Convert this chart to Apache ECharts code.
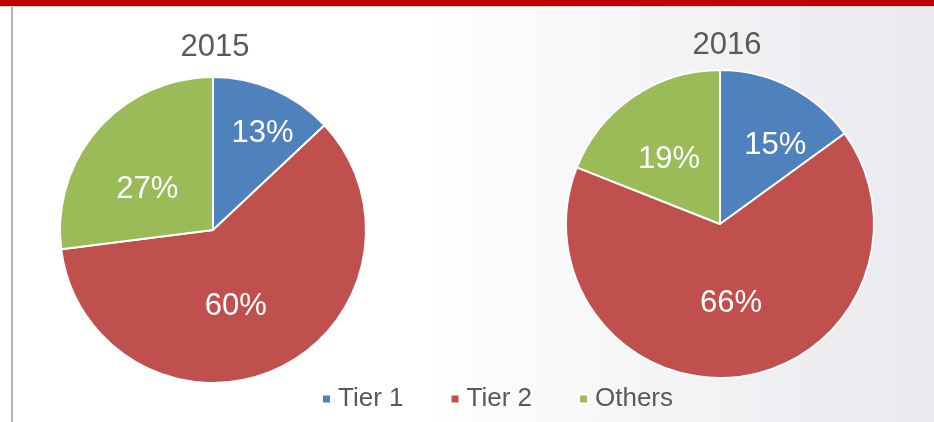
<!DOCTYPE html>
<html>
<head>
<meta charset="utf-8">
<script src="https://cdn.jsdelivr.net/npm/echarts@6/dist/echarts.min.js"></script>
<style>
    html, body {
        margin: 0;
        padding: 0;
    }
    body {
        width: 934px;
        height: 422px;
        overflow: hidden;
        position: relative;
        background: linear-gradient(90deg, #ffffff 0%, #ffffff 45%, #e9e9ee 100%);
    }
    .topbar {
        position: absolute;
        left: 0;
        top: 0;
        width: 934px;
        height: 6px;
        background: #c00000;
        border-bottom: 1px solid #d8d8d8;
    }
    .leftline {
        position: absolute;
        left: 11px;
        top: 7px;
        width: 2px;
        height: 415px;
        background: #b3b3b3;
    }
    #chart {
        position: absolute;
        left: 0;
        top: 0;
        width: 934px;
        height: 422px;
    }
</style>
</head>
<body>
<div class="topbar"></div>
<div class="leftline"></div>
<div id="chart"></div>
<script>
var categories = ['Tier 1', 'Tier 2', 'Others'];
var years = ['2015', '2016'];
var values2015 = [13, 60, 27];
var values2016 = [15, 66, 19];

var colors = ['#4f81bd', '#c0504d', '#9bbb59'];
var fontName = '"Liberation Sans", Arial, sans-serif';

// small nudges so the labels sit where excel put them
var labelShift = [
    [[18, -24], [-11, 5], [-6, 12]],
    [[19, -7], [1, 0], [-6, 2]]
];

function toData(vals) {
    return vals.map(function (v, i) {
        return { name: categories[i], value: v };
    });
}

function pieSeries(idx, vals, center, radius) {
    return {
        name: years[idx],
        type: 'pie',
        center: center,
        radius: radius,
        startAngle: 90,
        clockwise: true,
        animation: false,
        itemStyle: {
            borderColor: '#ffffff',
            borderWidth: 2
        },
        label: {
            show: true,
            position: 'inside',
            formatter: '{c}%',
            color: '#ffffff',
            fontFamily: fontName,
            fontSize: 31
        },
        labelLine: { show: false },
        emphasis: { disabled: true },
        labelLayout: function (p) {
            var s = labelShift[idx][p.dataIndex];
            return { dx: s[0], dy: s[1] };
        },
        data: toData(vals)
    };
}

var chart = echarts.init(document.getElementById('chart'), null, { renderer: 'canvas' });

chart.setOption({
    color: colors,
    backgroundColor: 'transparent',
    title: [{
        text: years[0],
        left: 215,
        top: 32,
        textAlign: 'center',
        padding: 0,
        textStyle: { color: '#595959', fontSize: 31, fontWeight: 'normal', fontFamily: fontName }
    }, {
        text: years[1],
        left: 727,
        top: 30,
        textAlign: 'center',
        padding: 0,
        textStyle: { color: '#595959', fontSize: 31, fontWeight: 'normal', fontFamily: fontName }
    }],
    legend: {
        data: categories,
        left: 321,
        top: 386,
        icon: 'rect',
        itemWidth: 9,
        itemHeight: 9,
        itemGap: 46,
        padding: 0,
        selectedMode: false,
        textStyle: { color: '#595959', fontSize: 26, fontFamily: fontName, padding: [0, 0, 0, 2] }
    },
    series: [
        pieSeries(0, values2015, [213, 230], 153),
        pieSeries(1, values2016, [720, 224], 154)
    ]
});
</script>
</body>
</html>
